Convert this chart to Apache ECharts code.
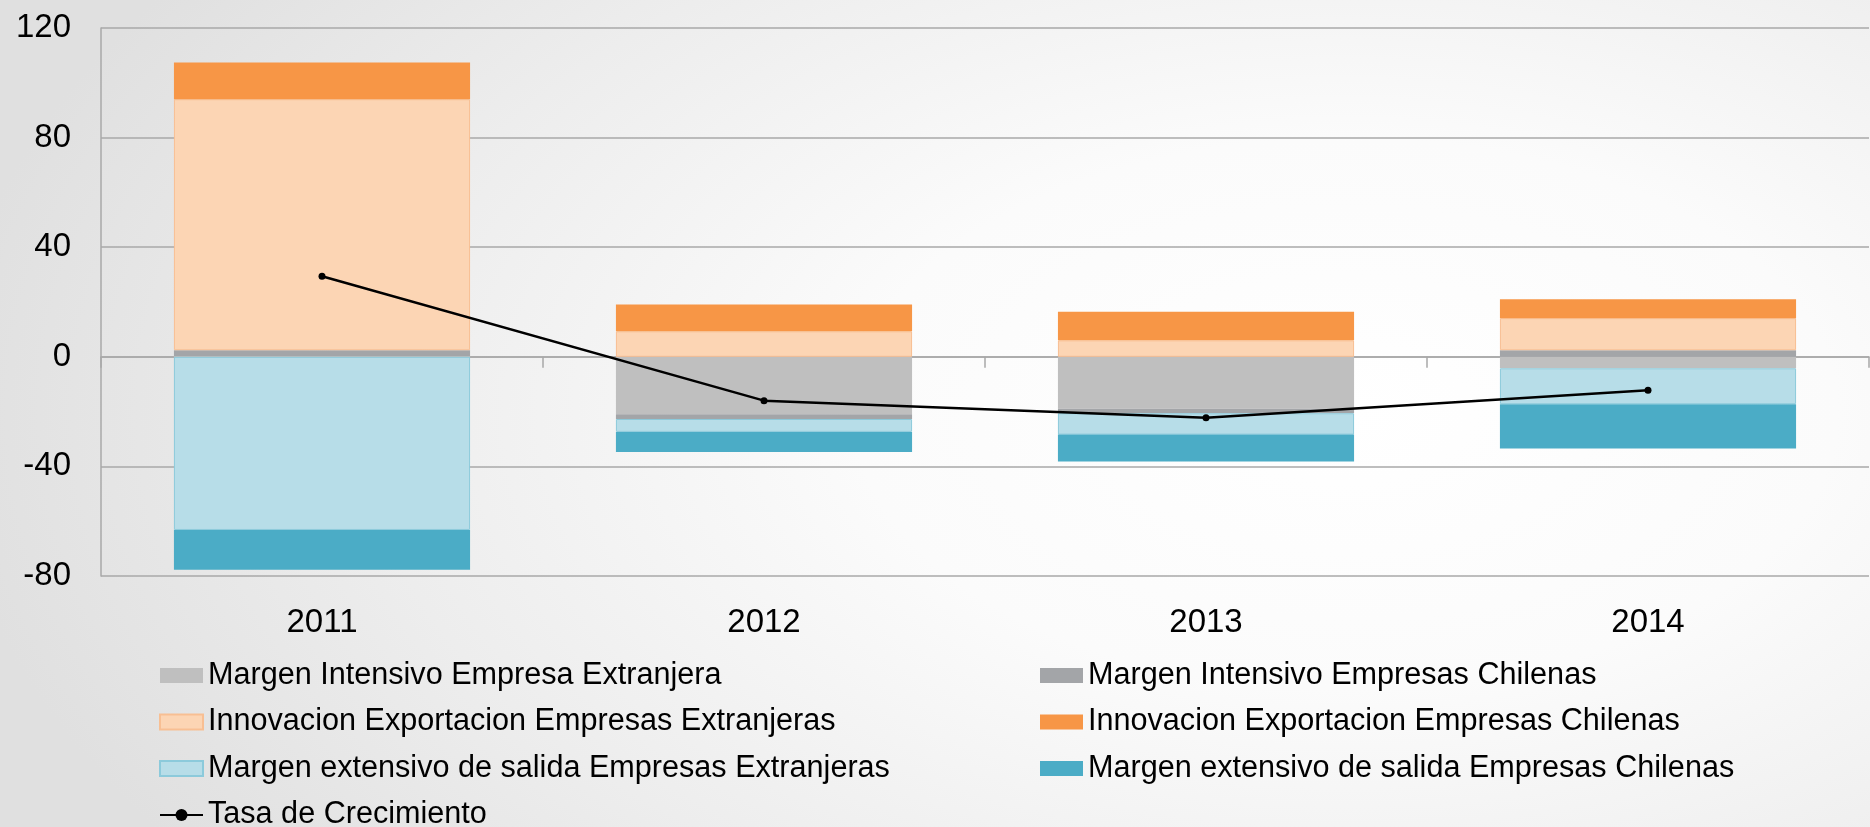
<!DOCTYPE html>
<html>
<head>
<meta charset="utf-8">
<title>Descomposicion tasa de crecimiento</title>
<script src="https://cdn.jsdelivr.net/npm/echarts@6.0.0/dist/echarts.min.js"></script>
<style>
  html, body {
    margin: 0;
    padding: 0;
    width: 1870px;
    height: 827px;
    overflow: hidden;
    background: radial-gradient(ellipse 75% 95% at 72% 50%, #ffffff 0%, #fbfbfb 35%, #ededed 70%, #e0e0e0 100%);
  }
  #chart {
    width: 1870px;
    height: 827px;
  }
</style>
</head>
<body>
<div id="chart"></div>
<script>
const years = ['2011', '2012', '2013', '2014']

// valores
const intensivoExtranjera = [0.3, -21.0, -19.0, -4.2]
const intensivoChilenas = [2.1, -1.7, -1.6, 2.4]
const innovacionExtranjeras = [91.6, 9.3, 6.0, 11.7]
const innovacionChilenas = [13.4, 9.8, 10.4, 6.9]
const extensivoExtranjeras = [-63.2, -4.7, -7.8, -13.1]
const extensivoChilenas = [-14.5, -7.3, -9.8, -16.2]
const tasaCrecimiento = [29.4, -16.0, -22.2, -12.2]

const yTicks = { min: -80, max: 120, interval: 40 }

const FONT = '"Liberation Sans", Arial, sans-serif'
const GRID_COLOR = '#a8a8a8'

const names = {
  intExt: 'Margen Intensivo Empresa Extranjera',
  intChi: 'Margen Intensivo Empresas Chilenas',
  innExt: 'Innovacion Exportacion Empresas Extranjeras',
  innChi: 'Innovacion Exportacion Empresas Chilenas',
  extExt: 'Margen extensivo de salida Empresas Extranjeras',
  extChi: 'Margen extensivo de salida Empresas Chilenas',
  tasa: 'Tasa de Crecimiento',
}

const barSeries = (name, data, color, border) => ({
  name,
  type: 'bar',
  stack: 'total',
  data,
  barCategoryGap: '33%',
  itemStyle: border
    ? { color, borderColor: border, borderWidth: 1 }
    : { color },
  emphasis: { disabled: true },
})

const chart = echarts.init(document.getElementById('chart'))

const legendText = { fontSize: 30.6, color: '#000', fontFamily: FONT }

// dos columnas de leyenda, como en el original
const legendCol = (left, data) => ({
  orient: 'vertical',
  left,
  top: 660,
  height: 220,
  padding: 0,
  itemWidth: 43,
  itemHeight: 15,
  itemGap: 15.5,
  textStyle: legendText,
  selectedMode: false,
  data,
})

chart.setOption({
  backgroundColor: 'transparent',
  animation: false,
  textStyle: { fontFamily: FONT },
  grid: { left: 101, right: 1, top: 28, bottom: 251, containLabel: false },
  legend: [
    legendCol(159, [
      { name: names.intExt, icon: 'rect' },
      { name: names.innExt, icon: 'rect' },
      { name: names.extExt, icon: 'rect' },
      { name: names.tasa },
    ]),
    legendCol(1040, [
      { name: names.intChi, icon: 'rect' },
      { name: names.innChi, icon: 'rect' },
      { name: names.extChi, icon: 'rect' },
    ]),
  ],
  xAxis: [
    {
      // etiquetas abajo
      type: 'category',
      data: years,
      position: 'bottom',
      axisLine: { show: false, onZero: false },
      axisTick: { show: false },
      axisLabel: { fontSize: 33, color: '#000', margin: 30, fontFamily: FONT },
    },
    {
      // linea del eje en cero con marcas
      type: 'category',
      data: years,
      position: 'bottom',
      axisLine: { show: true, onZero: true, lineStyle: { color: GRID_COLOR, width: 1.5 } },
      axisTick: { show: true, length: 11, lineStyle: { color: GRID_COLOR, width: 1.5 } },
      axisLabel: { show: false },
    },
  ],
  yAxis: {
    type: 'value',
    min: yTicks.min,
    max: yTicks.max,
    interval: yTicks.interval,
    axisLine: { show: true, lineStyle: { color: GRID_COLOR, width: 1.5 } },
    axisTick: { show: false },
    axisLabel: { fontSize: 33, color: '#000', margin: 30, fontFamily: FONT },
    splitLine: { show: true, lineStyle: { color: GRID_COLOR, width: 1.5 } },
  },
  series: [
    barSeries(names.intExt, intensivoExtranjera, '#bfbfbf'),
    barSeries(names.intChi, intensivoChilenas, '#a3a5a8'),
    barSeries(names.innExt, innovacionExtranjeras, '#fcd5b4', '#f8bf93'),
    barSeries(names.innChi, innovacionChilenas, '#f79646'),
    barSeries(names.extExt, extensivoExtranjeras, '#b7dde8', '#8ccadb'),
    barSeries(names.extChi, extensivoChilenas, '#4bacc6'),
    {
      name: names.tasa,
      type: 'line',
      data: tasaCrecimiento,
      symbol: 'circle',
      symbolSize: 7,
      z: 10,
      itemStyle: { color: '#000' },
      lineStyle: { color: '#000', width: 2.5 },
      emphasis: { disabled: true },
    },
  ],
})
</script>
</body>
</html>
